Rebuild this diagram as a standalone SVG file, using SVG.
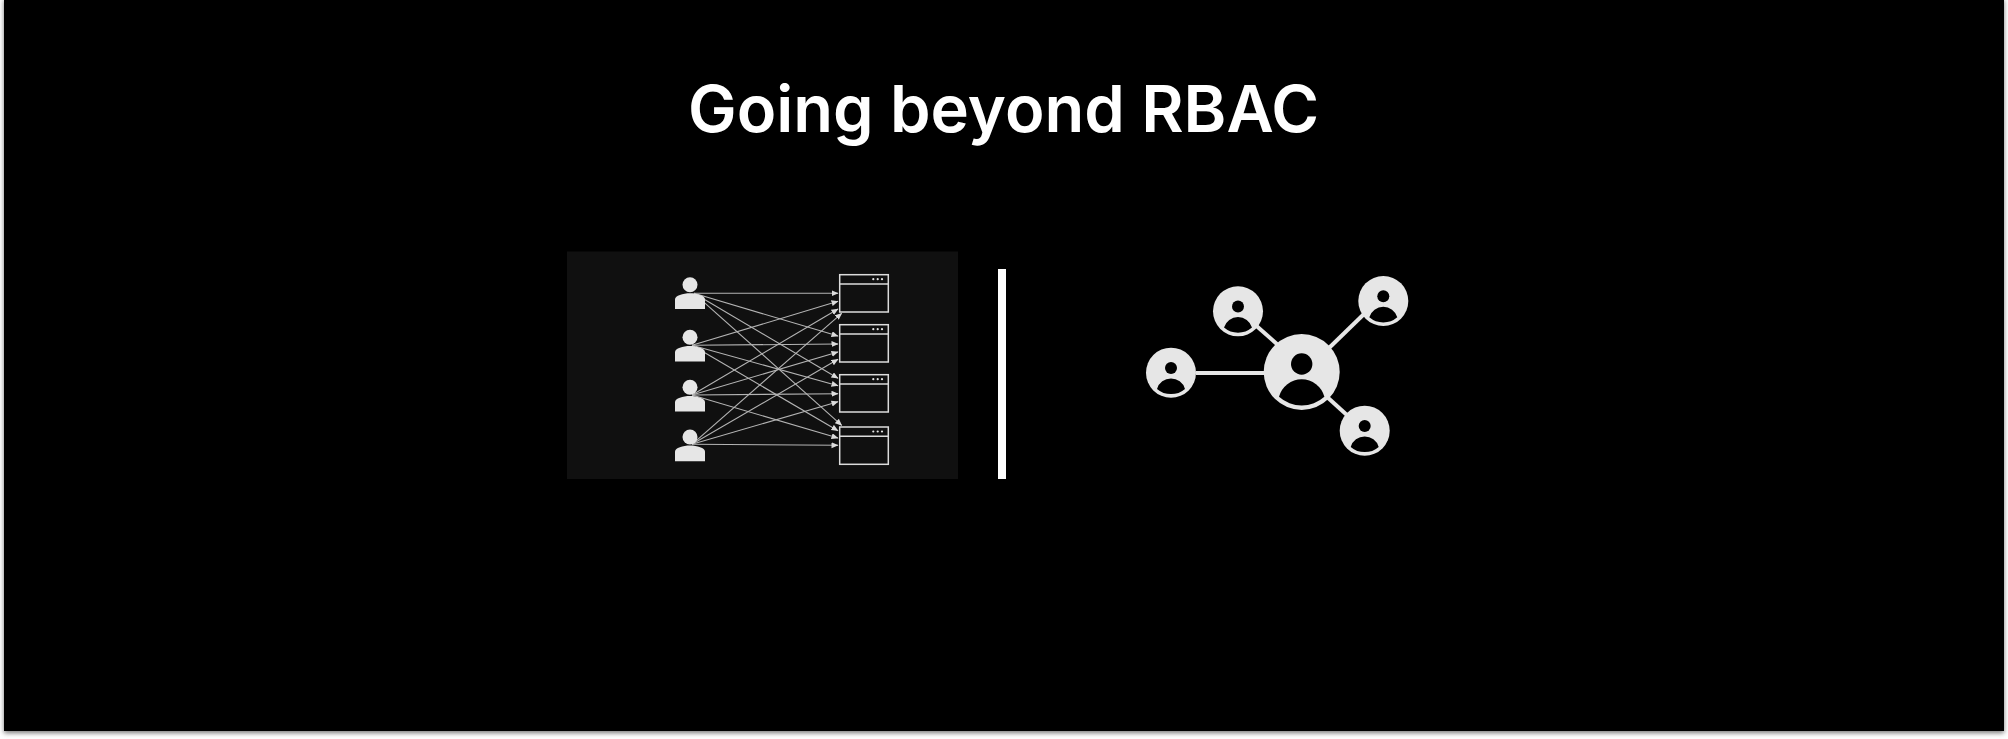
<svg xmlns="http://www.w3.org/2000/svg" width="2008" height="739" viewBox="0 0 2008 739">
<style>
.title{font-family:Inter,"Liberation Sans",sans-serif;font-size:65px;font-weight:600;fill:#fff}
.u{fill:#e6e6e6}
.w{fill:none;stroke:#dcdcdc;stroke-width:1.5}
.a{stroke:#b4b4b4;stroke-width:1.1;fill:none;marker-end:url(#ah)}
.l{stroke:#e6e6e6;stroke-width:4;fill:none}
.c{fill:#e6e6e6}
.k{fill:#000}
</style>
<defs>
<marker id="ah" markerUnits="userSpaceOnUse" markerWidth="8" markerHeight="7" refX="6.500" refY="3" orient="auto"><path d="M0 0L7 3L0 6z" fill="#dcdcdc"/></marker>
<filter id="sh" x="-2%" y="-2%" width="104%" height="104%"><feGaussianBlur stdDeviation="2.5"/></filter>
<g id="user"><circle cx="0" cy="0" r="7.500" class="u"/><path d="M-15 24.300V14.600C-15 11 -7 8.600 0 8.600S15 11 15 14.600V24.300z" class="u"/></g>
<g id="win"><rect x="0" y="0" width="48.600" height="37.300" class="w"/><path d="M0 9.300H48.600" class="w"/><circle cx="33.600" cy="4.500" r="1.100" fill="#e6e6e6"/><circle cx="38" cy="4.500" r="1.100" fill="#e6e6e6"/><circle cx="42.300" cy="4.500" r="1.100" fill="#e6e6e6"/></g>
<g id="person"><circle r="25" class="c"/><circle cx="0" cy="-4.700" r="6" class="k"/><path d="M-14 16.200A14.600 14.600 0 0 1 14 16.200A21.500 21.500 0 0 1 -14 16.200z" class="k"/></g>
</defs>
<rect width="2008" height="739" fill="#fff"/>
<rect x="4" y="0" width="2000" height="733" fill="#777" filter="url(#sh)"/>
<rect x="4" y="0" width="2000" height="731" fill="#000"/>
<text class="title" x="1003.500" y="132" text-anchor="middle">Going beyond RBAC</text>
<rect id="panel" x="567" y="251.500" width="391" height="227.500" fill="#101010"/>
<rect id="divider" x="998" y="269" width="8" height="210" fill="#fff"/>
<g id="connectors">
<g id="rbac-arrows">
<path class="a" d="M694 293.300L838 293.300"/><path class="a" d="M694 293.300L838 336"/><path class="a" d="M694 293.300L838 378.300"/><path class="a" d="M694 293.300L841.700 425.300"/>
<path class="a" d="M692 345.300L838 301.300"/><path class="a" d="M692 345.300L838 344"/><path class="a" d="M692 345.300L838 385.700"/><path class="a" d="M692 345.300L838 430.700"/>
<path class="a" d="M692 395L838 309"/><path class="a" d="M692 395L838 352"/><path class="a" d="M692 395L838 393.700"/><path class="a" d="M692 395L838 438"/>
<path class="a" d="M692 444.300L841.700 313.300"/><path class="a" d="M692 444.300L838 359.300"/><path class="a" d="M692 444.300L838 401.700"/><path class="a" d="M692 444.300L838 445.300"/>
</g>
<g id="graph-links">
<path class="l" d="M1196 373H1270"/><path class="l" d="M1256 325.500L1278 345"/><path class="l" d="M1364 314L1329 348"/><path class="l" d="M1326 396L1348 416"/>
</g>
</g>
<g id="user-1"><use href="#user" x="690" y="284.700"/></g>
<g id="user-2"><use href="#user" x="690" y="337.300"/></g>
<g id="user-3"><use href="#user" x="690" y="387.300"/></g>
<g id="user-4"><use href="#user" x="690" y="437"/></g>
<g id="window-1"><use href="#win" x="839.700" y="274.700"/></g>
<g id="window-2"><use href="#win" x="839.700" y="324.700"/></g>
<g id="window-3"><use href="#win" x="839.700" y="374.700"/></g>
<g id="window-4"><use href="#win" x="839.700" y="427"/></g>
<g id="hub"><circle cx="1301.700" cy="372" r="38" class="c"/><circle cx="1301.700" cy="364" r="10.700" class="k"/><path d="M1279 396.700A23.500 23.500 0 0 1 1324.400 396.700A34 34 0 0 1 1279 396.700z" class="k"/></g>
<g id="person-1"><use href="#person" x="1238" y="311.300"/></g>
<g id="person-2"><use href="#person" x="1383.300" y="301"/></g>
<g id="person-3"><use href="#person" x="1171" y="372.700"/></g>
<g id="person-4"><use href="#person" x="1364.700" y="430.700"/></g>
</svg>
